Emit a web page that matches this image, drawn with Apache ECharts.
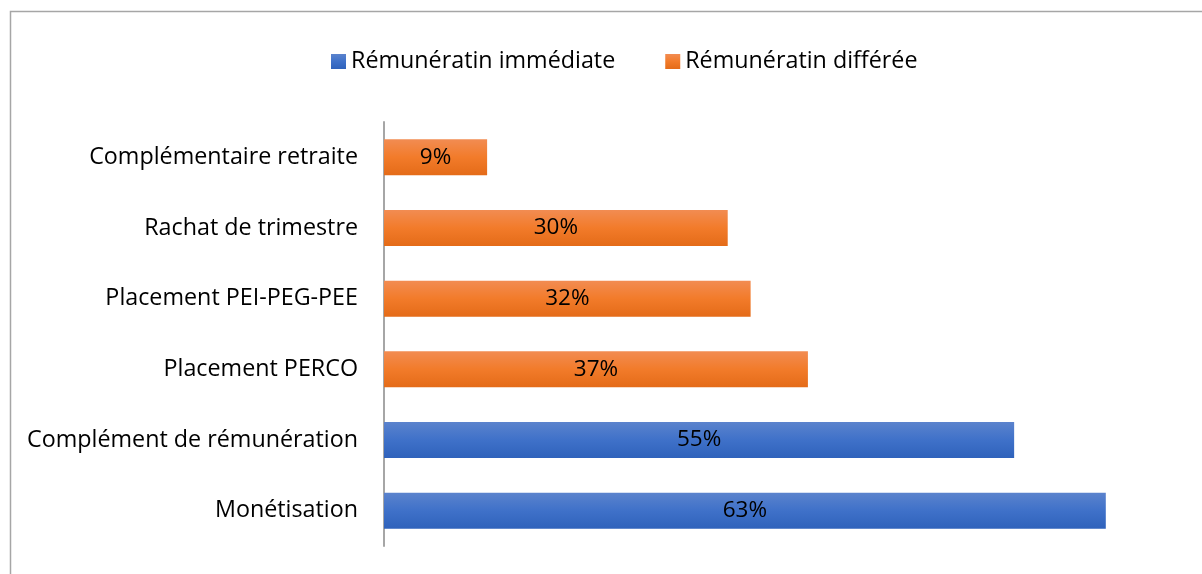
<!DOCTYPE html>
<html>
<head>
<meta charset="utf-8">
<script src="https://cdn.jsdelivr.net/npm/echarts@6/dist/echarts.min.js"></script>
<style>
html,body{margin:0;padding:0;background:#fff;}
#c{width:1202px;height:574px;}
</style>
</head>
<body>
<div id="c"></div>
<script>
const categories = ['Monétisation','Complément de rémunération','Placement PERCO','Placement PEI-PEG-PEE','Rachat de trimestre','Complémentaire retraite'];
const immediateValues = [63, 55, null, null, null, null];
const deferredValues = [null, null, 37, 32, 30, 9];
const seriesNames = ['Rémunératin immédiate', 'Rémunératin différée'];

const FONT = 'Open Sans';
const blueGrad = new echarts.graphic.LinearGradient(0,0,0,1,[{offset:0,color:'#5b83cd'},{offset:0.5,color:'#3f71c9'},{offset:1,color:'#2f62bb'}]);
const orangeGrad = new echarts.graphic.LinearGradient(0,0,0,1,[{offset:0,color:'#f28c52'},{offset:0.5,color:'#f27b2a'},{offset:1,color:'#e46b18'}]);

const chart = echarts.init(document.getElementById('c'), null, {renderer:'canvas'});
const labelCfg = {show:true, position:'inside', color:'#000', fontSize:22.5, fontFamily:FONT, formatter: p => p.value + '%'};
chart.setOption({
  animation:false,
  textStyle:{fontFamily:FONT},
  graphic:[{type:'polyline', shape:{points:[[10.5,700],[10.5,11.5],[1300,11.5]]}, style:{stroke:'#a6a6a6', lineWidth:1.5, fill:null}, silent:true}],
  legend:{
    top:45, left:326, itemWidth:15, itemHeight:15, itemGap:50, icon:'rect',
    textStyle:{fontSize:23.3, color:'#000', fontFamily:FONT},
    data:seriesNames
  },
  grid:{left:384, right:16, top:122, bottom:28, containLabel:false},
  xAxis:{type:'value', min:0, max:70, show:false},
  yAxis:{
    type:'category', data:categories,
    axisLine:{show:true, lineStyle:{color:'#a6a6a6', width:2}},
    axisTick:{show:false},
    axisLabel:{fontSize:23.3, color:'#000', margin:26, fontFamily:FONT}
  },
  series:[
    {name:seriesNames[0], type:'bar', stack:'s', data:immediateValues, barWidth:36, itemStyle:{color:blueGrad}, label:labelCfg},
    {name:seriesNames[1], type:'bar', stack:'s', data:deferredValues, barWidth:36, itemStyle:{color:orangeGrad}, label:labelCfg}
  ]
});
</script>
</body>
</html>
